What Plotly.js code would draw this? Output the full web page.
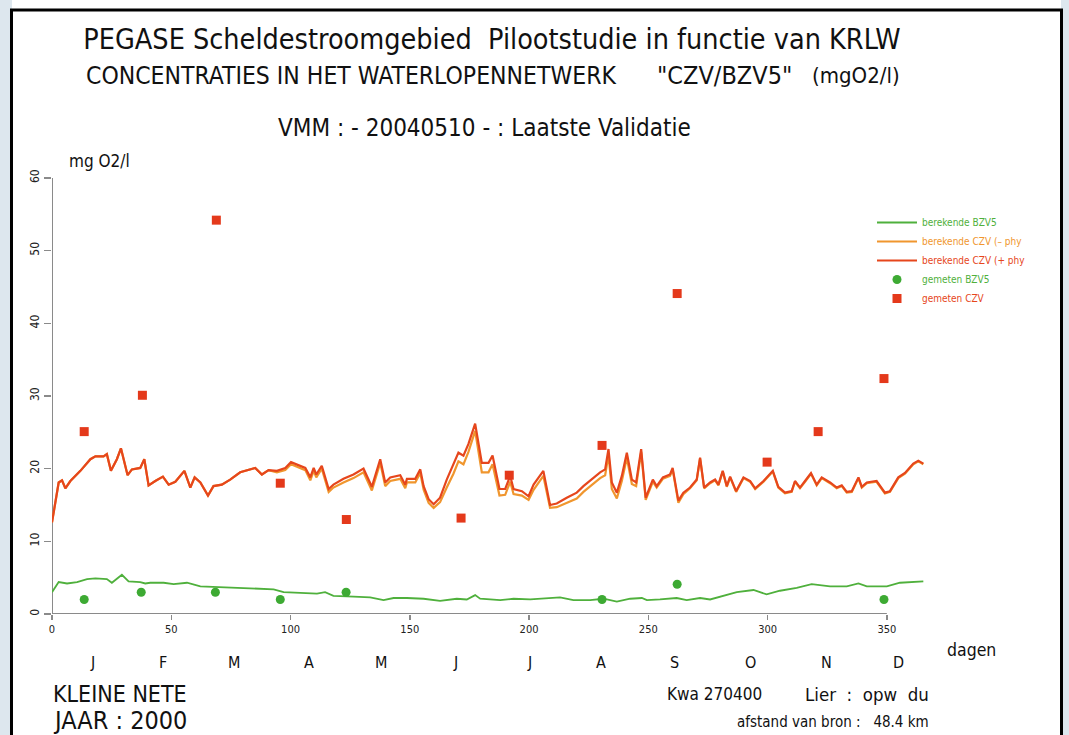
<!DOCTYPE html>
<html>
<head>
<meta charset="utf-8">
<script src="https://cdn.plot.ly/plotly-3.0.1.min.js"></script>
<style>html,body{margin:0;padding:0;background:#fff;}#chart{width:1069px;height:735px;}</style>
</head>
<body>
<div id="chart"></div>
<script>
// ---- data ----
const czvDays = [0,2.8,4.2,5.6,7.7,11.9,16.1,18.2,21.6,23.0,24.7,27.2,28.9,31.7,33.5,37.0,38.7,40.5,43.3,46.5,48.9,51.7,55.5,58.0,59.8,62.2,65.4,67.7,71.2,74.7,78.9,81.7,85.2,88.0,90.8,94.3,97.8,100.2,102.7,106.2,108.3,109.7,110.8,113.1,116.0,118.0,122.2,126.4,130.6,134.1,137.6,139.7,141.8,146.0,148.1,148.8,152.3,154.4,155.8,157.9,160.0,162.7,165.5,168.3,170.4,172.5,174.6,177.4,180.2,183.0,184.7,187.6,190.0,192.1,193.5,197.0,199.8,201.9,206.0,208.8,211.6,215.8,220.0,222.8,227.0,229.8,231.9,233.3,234.7,236.8,238.9,241.0,243.1,244.9,247.0,248.9,251.9,253.5,256.1,259.1,260.2,262.6,264.7,267.5,270.3,271.7,273.4,275.9,278.0,279.4,281.2,282.9,284.3,286.8,289.9,292.7,294.8,298.3,302.2,304.5,307.3,310.1,311.5,313.6,315.7,318.2,320.6,322.7,326.2,329.0,331.1,333.2,335.3,338.1,339.5,341.6,345.7,347.1,349.2,351.3,354.8,357.6,361.1,363.2,365.3];
const czvPlusPhy = [12.6,18.1,18.4,17.3,18.3,19.7,21.3,21.7,21.7,22.0,19.7,21.3,22.8,19.1,19.9,20.1,21.3,17.7,18.3,18.9,17.8,18.2,19.7,17.4,18.8,18.1,16.3,17.6,17.8,18.5,19.5,19.8,20.1,19.2,19.8,19.7,20.1,20.9,20.6,20.1,18.8,20.1,19.2,20.4,17.2,17.8,18.6,19.2,20.0,17.5,21.3,18.1,18.8,19.1,17.8,18.6,18.6,19.9,17.6,15.8,15.1,16.0,18.5,20.6,22.2,21.8,23.4,26.2,20.8,20.8,21.8,17.2,17.2,19.0,17.2,16.9,16.2,17.8,19.7,15.0,15.2,16.0,16.7,17.6,18.8,19.5,19.9,22.7,18.1,16.7,19.0,22.2,18.5,18.1,22.7,16.0,18.5,17.6,18.8,19.2,20.1,15.6,16.7,17.4,18.5,21.5,17.4,18.1,18.5,17.8,19.7,17.6,18.9,16.9,18.8,18.3,17.3,18.3,19.7,17.5,16.7,16.9,18.3,17.4,18.3,19.4,17.8,18.8,18.1,17.4,17.7,16.8,16.9,18.8,17.5,18.1,18.3,17.7,16.7,16.9,18.8,19.4,20.7,21.1,20.7];
const czvMinPhy = [12.6,18.1,18.4,17.3,18.3,19.7,21.3,21.7,21.7,22.0,19.7,21.3,22.8,19.1,19.9,20.1,21.3,17.7,18.3,18.9,17.8,18.2,19.7,17.4,18.8,18.1,16.3,17.6,17.8,18.5,19.5,19.8,20.1,19.2,19.8,19.5,19.8,20.6,20.3,19.8,18.4,19.7,18.8,20.0,16.8,17.4,18.1,18.7,19.5,17.0,20.8,17.6,18.3,18.6,17.3,18.1,18.1,19.4,17.1,15.3,14.6,15.4,17.4,19.3,21.0,20.6,22.3,25.2,19.5,19.5,20.6,16.3,16.4,18.2,16.5,16.3,15.7,17.1,19.0,14.6,14.7,15.3,15.9,16.8,17.9,18.7,19.1,21.9,17.2,15.9,18.3,21.5,17.9,17.6,22.3,15.7,18.2,17.4,18.6,19.0,19.9,15.3,16.5,17.3,18.4,21.4,17.3,18.0,18.4,17.7,19.6,17.5,18.8,16.8,18.7,18.2,17.2,18.2,19.6,17.4,16.6,16.8,18.2,17.3,18.2,19.3,17.7,18.7,18.0,17.3,17.6,16.7,16.8,18.7,17.4,18.0,18.2,17.6,16.6,16.8,18.7,19.3,20.6,21.0,20.6];
const bzvDays = [0,2.8,6.3,10.5,14.7,18.2,23.0,25.1,29.3,32.1,37.0,39.1,41.2,46.8,51.0,56.6,62.2,69.1,78.9,85.9,92.9,97.1,104.1,111.1,114.5,118.0,126.4,133.4,139.0,143.2,148.8,155.8,162.7,169.7,173.9,177.4,179.5,187.9,193.5,200.5,213.0,218.6,225.6,231.2,236.8,242.4,247.3,249.4,254.9,261.9,266.1,271.7,275.9,281.5,287.1,294.1,299.6,305.2,312.2,318.5,326.2,333.2,338.1,341.6,350.0,355.5,361.1,365.3];
const bzvCalc = [3.0,4.4,4.2,4.4,4.8,4.9,4.8,4.3,5.4,4.5,4.4,4.2,4.3,4.3,4.1,4.3,3.8,3.7,3.6,3.5,3.4,3.0,2.9,2.8,3.0,2.5,2.4,2.3,1.9,2.2,2.2,2.1,1.8,2.1,2.0,2.6,2.1,1.9,2.1,2.0,2.3,1.9,1.9,2.1,1.7,2.1,2.2,1.9,2.0,2.2,1.9,2.2,2.0,2.5,3.0,3.3,2.7,3.2,3.6,4.1,3.8,3.8,4.2,3.8,3.8,4.3,4.4,4.5];
const measCzvDays = [13.5,37.9,68.9,95.7,123.4,171.5,191.7,230.6,262.1,299.8,321.2,348.8];
const measCzv = [25.1,30.1,54.2,18.0,13.0,13.2,19.1,23.2,44.1,20.9,25.1,32.4];
const measBzvDays = [13.5,37.4,68.5,95.7,123.3,230.6,262.1,348.8];
const measBzv = [2.0,3.0,3.0,2.0,3.0,2.0,4.1,2.0];
const xTicks = [0,50,100,150,200,250,300,350];
const yTicks = [0,10,20,30,40,50,60];
const monthLabels = ['J','F','M','A','M','J','J','A','S','O','N','D'];
const monthMidDays = [16.9,46.6,76.4,107.8,138,169,200,230,261,293,324.5,354.7];

// ---- styles ----
const FONT = '"DejaVu Sans Condensed", "Liberation Sans Narrow", "DejaVu Sans", sans-serif';
const GREEN = '#4fb03c';
const ORANGE = '#f0962e';
const RED = '#e6461c';
const AXIS = '#8a8a8a';
// plot area in pixels
const L = 52, T = 178, W = 873, H = 436;
const px = v => (v - L) / W;
const py = v => 1 - (v - T) / H;

const traces = [
  {x: bzvDays, y: bzvCalc, type: 'scatter', mode: 'lines', name: '<span style="color:' + GREEN + '">berekende BZV5</span>', line: {color: GREEN, width: 1.8}, legendrank: 1},
  {x: czvDays, y: czvMinPhy, type: 'scatter', mode: 'lines', name: '<span style="color:' + ORANGE + '">berekende CZV (– phy</span>', line: {color: ORANGE, width: 2.2}, legendrank: 2},
  {x: czvDays, y: czvPlusPhy, type: 'scatter', mode: 'lines', name: '<span style="color:' + RED + '">berekende CZV (+ phy</span>', line: {color: RED, width: 2.2}, legendrank: 3},
  {x: measBzvDays, y: measBzv, type: 'scatter', mode: 'markers', name: '<span style="color:' + GREEN + '">gemeten BZV5</span>', marker: {symbol: 'circle', size: 9, color: '#3daa33'}, legendrank: 4},
  {x: measCzvDays, y: measCzv, type: 'scatter', mode: 'markers', name: '<span style="color:' + RED + '">gemeten CZV</span>', marker: {symbol: 'square', size: 9, color: '#e4391b'}, legendrank: 5}
];

const annotations = [
  {text: 'CONCENTRATIES IN HET WATERLOPENNETWERK', x: px(84), y: py(75), xanchor: 'left', yanchor: 'middle', font: {size: 24.5}},
  {text: '"CZV/BZV5"', x: px(655), y: py(75), xanchor: 'left', yanchor: 'middle', font: {size: 25}},
  {text: '(mgO2/l)', x: px(810), y: py(75), xanchor: 'left', yanchor: 'middle', font: {size: 22}},
  {text: 'VMM : - 20040510 - : Laatste Validatie', x: px(484), y: py(128), xanchor: 'center', yanchor: 'middle', font: {size: 24}},
  {text: 'mg O2/l', x: px(67), y: py(161), xanchor: 'left', yanchor: 'middle', font: {size: 17}},
  {text: 'dagen', x: px(945), y: py(650), xanchor: 'left', yanchor: 'middle', font: {size: 17.5}},
  {text: 'KLEINE NETE', x: px(51), y: py(694), xanchor: 'left', yanchor: 'middle', font: {size: 23}},
  {text: 'JAAR : 2000', x: px(51), y: py(720), xanchor: 'left', yanchor: 'middle', font: {size: 25}},
  {text: 'Kwa 270400', x: px(665), y: py(694), xanchor: 'left', yanchor: 'middle', font: {size: 17}},
  {text: 'Lier&nbsp;&nbsp;:&nbsp;&nbsp;opw&nbsp;&nbsp;du', x: px(803), y: py(694), xanchor: 'left', yanchor: 'middle', font: {size: 18.5}},
  {text: 'afstand&nbsp;van&nbsp;bron&nbsp;:&nbsp;&nbsp;&nbsp;48.4&nbsp;km', x: px(735), y: py(722), xanchor: 'left', yanchor: 'middle', font: {size: 15}}
].map(a => Object.assign({xref: 'paper', yref: 'paper', showarrow: false}, a));

monthLabels.forEach((m, i) => {
  annotations.push({text: m, x: monthMidDays[i], xref: 'x', y: py(662), yref: 'paper', xanchor: 'center', yanchor: 'middle', showarrow: false, font: {size: 16}});
});

const shapes = [
  // side strips of the page background
  {type: 'rect', xref: 'paper', yref: 'paper', x0: px(0), x1: px(12), y0: py(0), y1: py(745), fillcolor: '#dde7ee', line: {width: 0}, layer: 'below'},
  {type: 'rect', xref: 'paper', yref: 'paper', x0: px(1061), x1: px(1069), y0: py(0), y1: py(745), fillcolor: '#dde7ee', line: {width: 0}, layer: 'below'},
  // white panel with black border
  {type: 'rect', xref: 'paper', yref: 'paper', x0: px(11.5), x1: px(1061.5), y0: py(10), y1: py(760), fillcolor: '#ffffff', line: {color: '#000', width: 3}, layer: 'below'},
  // axis lines
  {type: 'line', xref: 'x', yref: 'y', x0: 0, x1: 350, y0: 0, y1: 0, line: {color: AXIS, width: 2}, layer: 'below'},
  {type: 'line', xref: 'x', yref: 'y', x0: 0, x1: 0, y0: 0, y1: 60, line: {color: AXIS, width: 2}, layer: 'below'}
];

const layout = {
  width: 1069, height: 735,
  margin: {l: L, r: 1069 - L - W, t: T, b: 735 - T - H, pad: 0},
  paper_bgcolor: '#ffffff',
  plot_bgcolor: 'rgba(0,0,0,0)',
  font: {family: FONT, color: '#111', size: 12},
  title: {text: 'PEGASE Scheldestroomgebied&nbsp;&nbsp;Pilootstudie in functie van KRLW', font: {family: FONT, size: 28.5, color: '#111'}, x: 492 / 1069, xanchor: 'center', xref: 'container', y: 1 - 39 / 735, yanchor: 'middle', yref: 'container'},
  xaxis: {range: [0, 366], tickvals: xTicks, ticktext: xTicks.map(String), ticks: 'outside', ticklen: 5, tickwidth: 1.5, tickcolor: AXIS, showline: false, showgrid: false, zeroline: false, tickfont: {size: 11, color: '#222'}, fixedrange: true},
  yaxis: {range: [0, 60], tickvals: yTicks, ticktext: yTicks.map(String), tickangle: -90, ticks: 'outside', ticklen: 7, tickwidth: 1.5, tickcolor: AXIS, showline: false, showgrid: false, zeroline: false, tickfont: {size: 12, color: '#222'}, fixedrange: true},
  showlegend: true,
  legend: {x: px(872), y: py(208), xanchor: 'left', yanchor: 'top', bgcolor: 'rgba(0,0,0,0)', font: {size: 10, family: FONT}, itemwidth: 40, tracegroupgap: 0},
  shapes: shapes,
  annotations: annotations
};

Plotly.newPlot('chart', traces, layout, {displayModeBar: false, staticPlot: true});
</script>
</body>
</html>
